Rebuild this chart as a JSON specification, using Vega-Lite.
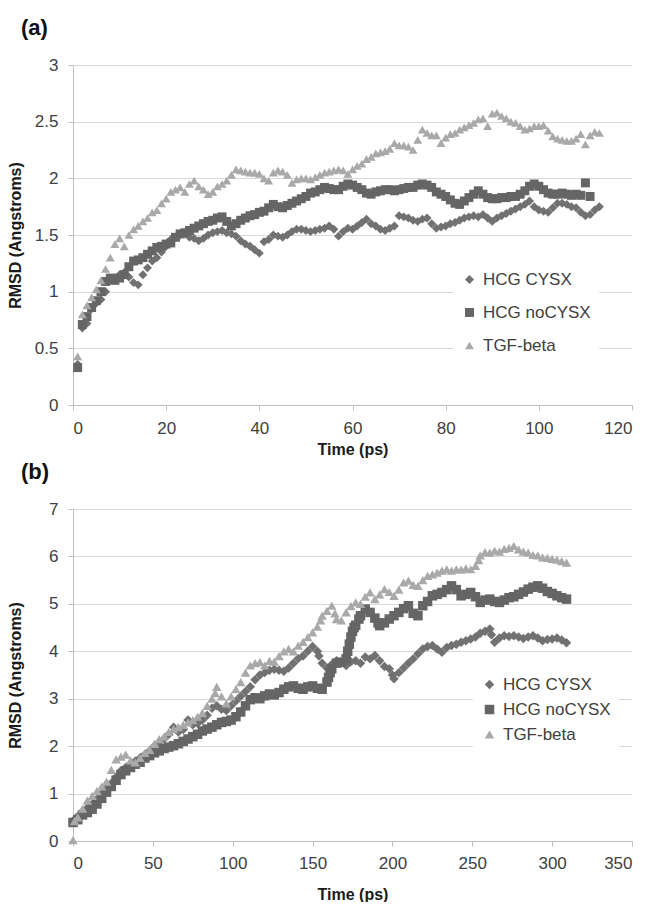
{
"$schema":"https://vega.github.io/schema/vega-lite/v6.json",
"background":"white",
"padding":{"left":7,"top":17,"right":0,"bottom":0},
"spacing":4,
"config":{
"font":"Liberation Sans",
"view":{"stroke":null},
"title":{"font":"Liberation Sans","fontSize":22,"fontWeight":"bold","color":"#111111","anchor":"start","frame":"group"},
"axis":{"labelFont":"Liberation Sans","labelFontSize":17,"labelColor":"#404040","titleFont":"Liberation Sans","titleFontSize":16,"titleFontWeight":"bold","titleColor":"#1a1a1a","domainColor":"#bfbfbf","tickColor":"#bfbfbf","gridColor":"#d9d9d9","tickSize":5,"domainWidth":1,"gridWidth":1.2},
"legend":{"labelFont":"Liberation Sans","labelFontSize":17,"labelColor":"#404040","symbolStrokeWidth":0,"fillColor":"white","symbolSize":50,"labelOffset":5}
},
"datasets":{
"a":[
{"series":"HCG CYSX","time":1,"rmsd":0.36},{"series":"HCG CYSX","time":2,"rmsd":0.68},{"series":"HCG CYSX","time":3,"rmsd":0.72},{"series":"HCG CYSX","time":4,"rmsd":0.85},{"series":"HCG CYSX","time":5,"rmsd":0.90},{"series":"HCG CYSX","time":6,"rmsd":0.93},{"series":"HCG CYSX","time":7,"rmsd":1.00},{"series":"HCG CYSX","time":8,"rmsd":1.10},{"series":"HCG CYSX","time":9,"rmsd":1.12},{"series":"HCG CYSX","time":10,"rmsd":1.15},
{"series":"HCG CYSX","time":11,"rmsd":1.17},{"series":"HCG CYSX","time":12,"rmsd":1.13},{"series":"HCG CYSX","time":13,"rmsd":1.08},{"series":"HCG CYSX","time":14,"rmsd":1.06},{"series":"HCG CYSX","time":15,"rmsd":1.15},{"series":"HCG CYSX","time":16,"rmsd":1.21},{"series":"HCG CYSX","time":17,"rmsd":1.27},{"series":"HCG CYSX","time":18,"rmsd":1.30},{"series":"HCG CYSX","time":19,"rmsd":1.35},{"series":"HCG CYSX","time":20,"rmsd":1.40},
{"series":"HCG CYSX","time":21,"rmsd":1.46},{"series":"HCG CYSX","time":22,"rmsd":1.48},{"series":"HCG CYSX","time":23,"rmsd":1.50},{"series":"HCG CYSX","time":24,"rmsd":1.51},{"series":"HCG CYSX","time":25,"rmsd":1.48},{"series":"HCG CYSX","time":26,"rmsd":1.47},{"series":"HCG CYSX","time":27,"rmsd":1.45},{"series":"HCG CYSX","time":28,"rmsd":1.47},{"series":"HCG CYSX","time":29,"rmsd":1.50},{"series":"HCG CYSX","time":30,"rmsd":1.52},
{"series":"HCG CYSX","time":31,"rmsd":1.53},{"series":"HCG CYSX","time":32,"rmsd":1.54},{"series":"HCG CYSX","time":33,"rmsd":1.52},{"series":"HCG CYSX","time":34,"rmsd":1.51},{"series":"HCG CYSX","time":35,"rmsd":1.49},{"series":"HCG CYSX","time":36,"rmsd":1.45},{"series":"HCG CYSX","time":37,"rmsd":1.42},{"series":"HCG CYSX","time":38,"rmsd":1.40},{"series":"HCG CYSX","time":39,"rmsd":1.37},{"series":"HCG CYSX","time":40,"rmsd":1.34},
{"series":"HCG CYSX","time":41,"rmsd":1.44},{"series":"HCG CYSX","time":42,"rmsd":1.46},{"series":"HCG CYSX","time":43,"rmsd":1.50},{"series":"HCG CYSX","time":44,"rmsd":1.49},{"series":"HCG CYSX","time":45,"rmsd":1.48},{"series":"HCG CYSX","time":46,"rmsd":1.50},{"series":"HCG CYSX","time":47,"rmsd":1.53},{"series":"HCG CYSX","time":48,"rmsd":1.55},{"series":"HCG CYSX","time":49,"rmsd":1.55},{"series":"HCG CYSX","time":50,"rmsd":1.54},
{"series":"HCG CYSX","time":51,"rmsd":1.53},{"series":"HCG CYSX","time":52,"rmsd":1.54},{"series":"HCG CYSX","time":53,"rmsd":1.55},{"series":"HCG CYSX","time":54,"rmsd":1.56},{"series":"HCG CYSX","time":55,"rmsd":1.58},{"series":"HCG CYSX","time":56,"rmsd":1.55},{"series":"HCG CYSX","time":57,"rmsd":1.49},{"series":"HCG CYSX","time":58,"rmsd":1.53},{"series":"HCG CYSX","time":59,"rmsd":1.56},{"series":"HCG CYSX","time":60,"rmsd":1.55},
{"series":"HCG CYSX","time":61,"rmsd":1.58},{"series":"HCG CYSX","time":62,"rmsd":1.61},{"series":"HCG CYSX","time":63,"rmsd":1.64},{"series":"HCG CYSX","time":64,"rmsd":1.60},{"series":"HCG CYSX","time":65,"rmsd":1.58},{"series":"HCG CYSX","time":66,"rmsd":1.55},{"series":"HCG CYSX","time":67,"rmsd":1.54},{"series":"HCG CYSX","time":68,"rmsd":1.56},{"series":"HCG CYSX","time":69,"rmsd":1.58},{"series":"HCG CYSX","time":70,"rmsd":1.67},
{"series":"HCG CYSX","time":71,"rmsd":1.66},{"series":"HCG CYSX","time":72,"rmsd":1.65},{"series":"HCG CYSX","time":73,"rmsd":1.63},{"series":"HCG CYSX","time":74,"rmsd":1.62},{"series":"HCG CYSX","time":75,"rmsd":1.64},{"series":"HCG CYSX","time":76,"rmsd":1.65},{"series":"HCG CYSX","time":77,"rmsd":1.60},{"series":"HCG CYSX","time":78,"rmsd":1.56},{"series":"HCG CYSX","time":79,"rmsd":1.57},{"series":"HCG CYSX","time":80,"rmsd":1.58},
{"series":"HCG CYSX","time":81,"rmsd":1.60},{"series":"HCG CYSX","time":82,"rmsd":1.61},{"series":"HCG CYSX","time":83,"rmsd":1.63},{"series":"HCG CYSX","time":84,"rmsd":1.65},{"series":"HCG CYSX","time":85,"rmsd":1.66},{"series":"HCG CYSX","time":86,"rmsd":1.67},{"series":"HCG CYSX","time":87,"rmsd":1.66},{"series":"HCG CYSX","time":88,"rmsd":1.68},{"series":"HCG CYSX","time":89,"rmsd":1.65},{"series":"HCG CYSX","time":90,"rmsd":1.62},
{"series":"HCG CYSX","time":91,"rmsd":1.65},{"series":"HCG CYSX","time":92,"rmsd":1.67},{"series":"HCG CYSX","time":93,"rmsd":1.69},{"series":"HCG CYSX","time":94,"rmsd":1.71},{"series":"HCG CYSX","time":95,"rmsd":1.73},{"series":"HCG CYSX","time":96,"rmsd":1.75},{"series":"HCG CYSX","time":97,"rmsd":1.77},{"series":"HCG CYSX","time":98,"rmsd":1.80},{"series":"HCG CYSX","time":99,"rmsd":1.75},{"series":"HCG CYSX","time":100,"rmsd":1.72},
{"series":"HCG CYSX","time":101,"rmsd":1.71},{"series":"HCG CYSX","time":102,"rmsd":1.70},{"series":"HCG CYSX","time":103,"rmsd":1.74},{"series":"HCG CYSX","time":104,"rmsd":1.78},{"series":"HCG CYSX","time":105,"rmsd":1.78},{"series":"HCG CYSX","time":106,"rmsd":1.77},{"series":"HCG CYSX","time":107,"rmsd":1.75},{"series":"HCG CYSX","time":108,"rmsd":1.74},{"series":"HCG CYSX","time":109,"rmsd":1.70},{"series":"HCG CYSX","time":110,"rmsd":1.67},
{"series":"HCG CYSX","time":111,"rmsd":1.68},{"series":"HCG CYSX","time":112,"rmsd":1.72},{"series":"HCG CYSX","time":113,"rmsd":1.75},
{"series":"HCG noCYSX","time":1,"rmsd":0.33},{"series":"HCG noCYSX","time":2,"rmsd":0.71},{"series":"HCG noCYSX","time":3,"rmsd":0.78},{"series":"HCG noCYSX","time":4,"rmsd":0.86},{"series":"HCG noCYSX","time":5,"rmsd":0.92},{"series":"HCG noCYSX","time":6,"rmsd":1.00},{"series":"HCG noCYSX","time":7,"rmsd":1.09},{"series":"HCG noCYSX","time":8,"rmsd":1.12},{"series":"HCG noCYSX","time":9,"rmsd":1.10},{"series":"HCG noCYSX","time":10,"rmsd":1.12},
{"series":"HCG noCYSX","time":11,"rmsd":1.15},{"series":"HCG noCYSX","time":12,"rmsd":1.22},{"series":"HCG noCYSX","time":13,"rmsd":1.27},{"series":"HCG noCYSX","time":14,"rmsd":1.28},{"series":"HCG noCYSX","time":15,"rmsd":1.30},{"series":"HCG noCYSX","time":16,"rmsd":1.33},{"series":"HCG noCYSX","time":17,"rmsd":1.36},{"series":"HCG noCYSX","time":18,"rmsd":1.39},{"series":"HCG noCYSX","time":19,"rmsd":1.40},{"series":"HCG noCYSX","time":20,"rmsd":1.42},
{"series":"HCG noCYSX","time":21,"rmsd":1.43},{"series":"HCG noCYSX","time":22,"rmsd":1.48},{"series":"HCG noCYSX","time":23,"rmsd":1.51},{"series":"HCG noCYSX","time":24,"rmsd":1.52},{"series":"HCG noCYSX","time":25,"rmsd":1.54},{"series":"HCG noCYSX","time":26,"rmsd":1.56},{"series":"HCG noCYSX","time":27,"rmsd":1.58},{"series":"HCG noCYSX","time":28,"rmsd":1.60},{"series":"HCG noCYSX","time":29,"rmsd":1.62},{"series":"HCG noCYSX","time":30,"rmsd":1.63},
{"series":"HCG noCYSX","time":31,"rmsd":1.65},{"series":"HCG noCYSX","time":32,"rmsd":1.66},{"series":"HCG noCYSX","time":33,"rmsd":1.62},{"series":"HCG noCYSX","time":34,"rmsd":1.58},{"series":"HCG noCYSX","time":35,"rmsd":1.60},{"series":"HCG noCYSX","time":36,"rmsd":1.63},{"series":"HCG noCYSX","time":37,"rmsd":1.65},{"series":"HCG noCYSX","time":38,"rmsd":1.67},{"series":"HCG noCYSX","time":39,"rmsd":1.68},{"series":"HCG noCYSX","time":40,"rmsd":1.70},
{"series":"HCG noCYSX","time":41,"rmsd":1.71},{"series":"HCG noCYSX","time":42,"rmsd":1.74},{"series":"HCG noCYSX","time":43,"rmsd":1.77},{"series":"HCG noCYSX","time":44,"rmsd":1.75},{"series":"HCG noCYSX","time":45,"rmsd":1.74},{"series":"HCG noCYSX","time":46,"rmsd":1.76},{"series":"HCG noCYSX","time":47,"rmsd":1.78},{"series":"HCG noCYSX","time":48,"rmsd":1.80},{"series":"HCG noCYSX","time":49,"rmsd":1.82},{"series":"HCG noCYSX","time":50,"rmsd":1.84},
{"series":"HCG noCYSX","time":51,"rmsd":1.87},{"series":"HCG noCYSX","time":52,"rmsd":1.88},{"series":"HCG noCYSX","time":53,"rmsd":1.90},{"series":"HCG noCYSX","time":54,"rmsd":1.92},{"series":"HCG noCYSX","time":55,"rmsd":1.91},{"series":"HCG noCYSX","time":56,"rmsd":1.90},{"series":"HCG noCYSX","time":57,"rmsd":1.90},{"series":"HCG noCYSX","time":58,"rmsd":1.93},{"series":"HCG noCYSX","time":59,"rmsd":1.95},{"series":"HCG noCYSX","time":60,"rmsd":1.94},
{"series":"HCG noCYSX","time":61,"rmsd":1.92},{"series":"HCG noCYSX","time":62,"rmsd":1.90},{"series":"HCG noCYSX","time":63,"rmsd":1.87},{"series":"HCG noCYSX","time":64,"rmsd":1.86},{"series":"HCG noCYSX","time":65,"rmsd":1.88},{"series":"HCG noCYSX","time":66,"rmsd":1.89},{"series":"HCG noCYSX","time":67,"rmsd":1.90},{"series":"HCG noCYSX","time":68,"rmsd":1.90},{"series":"HCG noCYSX","time":69,"rmsd":1.89},{"series":"HCG noCYSX","time":70,"rmsd":1.90},
{"series":"HCG noCYSX","time":71,"rmsd":1.91},{"series":"HCG noCYSX","time":72,"rmsd":1.92},{"series":"HCG noCYSX","time":73,"rmsd":1.92},{"series":"HCG noCYSX","time":74,"rmsd":1.94},{"series":"HCG noCYSX","time":75,"rmsd":1.95},{"series":"HCG noCYSX","time":76,"rmsd":1.94},{"series":"HCG noCYSX","time":77,"rmsd":1.92},{"series":"HCG noCYSX","time":78,"rmsd":1.88},{"series":"HCG noCYSX","time":79,"rmsd":1.86},{"series":"HCG noCYSX","time":80,"rmsd":1.84},
{"series":"HCG noCYSX","time":81,"rmsd":1.81},{"series":"HCG noCYSX","time":82,"rmsd":1.78},{"series":"HCG noCYSX","time":83,"rmsd":1.77},{"series":"HCG noCYSX","time":84,"rmsd":1.80},{"series":"HCG noCYSX","time":85,"rmsd":1.83},{"series":"HCG noCYSX","time":86,"rmsd":1.86},{"series":"HCG noCYSX","time":87,"rmsd":1.89},{"series":"HCG noCYSX","time":88,"rmsd":1.86},{"series":"HCG noCYSX","time":89,"rmsd":1.83},{"series":"HCG noCYSX","time":90,"rmsd":1.82},
{"series":"HCG noCYSX","time":91,"rmsd":1.82},{"series":"HCG noCYSX","time":92,"rmsd":1.83},{"series":"HCG noCYSX","time":93,"rmsd":1.83},{"series":"HCG noCYSX","time":94,"rmsd":1.84},{"series":"HCG noCYSX","time":95,"rmsd":1.84},{"series":"HCG noCYSX","time":96,"rmsd":1.86},{"series":"HCG noCYSX","time":97,"rmsd":1.89},{"series":"HCG noCYSX","time":98,"rmsd":1.93},{"series":"HCG noCYSX","time":99,"rmsd":1.95},{"series":"HCG noCYSX","time":100,"rmsd":1.93},
{"series":"HCG noCYSX","time":101,"rmsd":1.90},{"series":"HCG noCYSX","time":102,"rmsd":1.87},{"series":"HCG noCYSX","time":103,"rmsd":1.86},{"series":"HCG noCYSX","time":104,"rmsd":1.86},{"series":"HCG noCYSX","time":105,"rmsd":1.87},{"series":"HCG noCYSX","time":106,"rmsd":1.86},{"series":"HCG noCYSX","time":107,"rmsd":1.85},{"series":"HCG noCYSX","time":108,"rmsd":1.86},{"series":"HCG noCYSX","time":109,"rmsd":1.85},{"series":"HCG noCYSX","time":110,"rmsd":1.96},
{"series":"HCG noCYSX","time":111,"rmsd":1.84},
{"series":"TGF-beta","time":1,"rmsd":0.43},{"series":"TGF-beta","time":2,"rmsd":0.80},{"series":"TGF-beta","time":3,"rmsd":0.88},{"series":"TGF-beta","time":4,"rmsd":0.95},{"series":"TGF-beta","time":5,"rmsd":1.02},{"series":"TGF-beta","time":6,"rmsd":1.10},{"series":"TGF-beta","time":7,"rmsd":1.20},{"series":"TGF-beta","time":8,"rmsd":1.30},{"series":"TGF-beta","time":9,"rmsd":1.42},{"series":"TGF-beta","time":10,"rmsd":1.47},
{"series":"TGF-beta","time":11,"rmsd":1.40},{"series":"TGF-beta","time":12,"rmsd":1.50},{"series":"TGF-beta","time":13,"rmsd":1.55},{"series":"TGF-beta","time":14,"rmsd":1.58},{"series":"TGF-beta","time":15,"rmsd":1.62},{"series":"TGF-beta","time":16,"rmsd":1.65},{"series":"TGF-beta","time":17,"rmsd":1.70},{"series":"TGF-beta","time":18,"rmsd":1.72},{"series":"TGF-beta","time":19,"rmsd":1.78},{"series":"TGF-beta","time":20,"rmsd":1.82},
{"series":"TGF-beta","time":21,"rmsd":1.88},{"series":"TGF-beta","time":22,"rmsd":1.90},{"series":"TGF-beta","time":23,"rmsd":1.92},{"series":"TGF-beta","time":24,"rmsd":1.88},{"series":"TGF-beta","time":25,"rmsd":1.95},{"series":"TGF-beta","time":26,"rmsd":1.98},{"series":"TGF-beta","time":27,"rmsd":1.93},{"series":"TGF-beta","time":28,"rmsd":1.90},{"series":"TGF-beta","time":29,"rmsd":1.86},{"series":"TGF-beta","time":30,"rmsd":1.88},
{"series":"TGF-beta","time":31,"rmsd":1.93},{"series":"TGF-beta","time":32,"rmsd":1.95},{"series":"TGF-beta","time":33,"rmsd":1.98},{"series":"TGF-beta","time":34,"rmsd":2.03},{"series":"TGF-beta","time":35,"rmsd":2.08},{"series":"TGF-beta","time":36,"rmsd":2.07},{"series":"TGF-beta","time":37,"rmsd":2.06},{"series":"TGF-beta","time":38,"rmsd":2.05},{"series":"TGF-beta","time":39,"rmsd":2.05},{"series":"TGF-beta","time":40,"rmsd":2.04},
{"series":"TGF-beta","time":41,"rmsd":2.00},{"series":"TGF-beta","time":42,"rmsd":1.98},{"series":"TGF-beta","time":43,"rmsd":2.05},{"series":"TGF-beta","time":44,"rmsd":2.07},{"series":"TGF-beta","time":45,"rmsd":2.06},{"series":"TGF-beta","time":46,"rmsd":2.03},{"series":"TGF-beta","time":47,"rmsd":1.96},{"series":"TGF-beta","time":48,"rmsd":1.99},{"series":"TGF-beta","time":49,"rmsd":2.00},{"series":"TGF-beta","time":50,"rmsd":2.00},
{"series":"TGF-beta","time":51,"rmsd":1.99},{"series":"TGF-beta","time":52,"rmsd":2.01},{"series":"TGF-beta","time":53,"rmsd":2.03},{"series":"TGF-beta","time":54,"rmsd":2.05},{"series":"TGF-beta","time":55,"rmsd":2.06},{"series":"TGF-beta","time":56,"rmsd":2.07},{"series":"TGF-beta","time":57,"rmsd":2.08},{"series":"TGF-beta","time":58,"rmsd":2.07},{"series":"TGF-beta","time":59,"rmsd":2.04},{"series":"TGF-beta","time":60,"rmsd":2.08},
{"series":"TGF-beta","time":61,"rmsd":2.11},{"series":"TGF-beta","time":62,"rmsd":2.13},{"series":"TGF-beta","time":63,"rmsd":2.17},{"series":"TGF-beta","time":64,"rmsd":2.19},{"series":"TGF-beta","time":65,"rmsd":2.22},{"series":"TGF-beta","time":66,"rmsd":2.23},{"series":"TGF-beta","time":67,"rmsd":2.24},{"series":"TGF-beta","time":68,"rmsd":2.26},{"series":"TGF-beta","time":69,"rmsd":2.31},{"series":"TGF-beta","time":70,"rmsd":2.29},
{"series":"TGF-beta","time":71,"rmsd":2.29},{"series":"TGF-beta","time":72,"rmsd":2.28},{"series":"TGF-beta","time":73,"rmsd":2.25},{"series":"TGF-beta","time":74,"rmsd":2.34},{"series":"TGF-beta","time":75,"rmsd":2.43},{"series":"TGF-beta","time":76,"rmsd":2.40},{"series":"TGF-beta","time":77,"rmsd":2.38},{"series":"TGF-beta","time":78,"rmsd":2.38},{"series":"TGF-beta","time":79,"rmsd":2.31},{"series":"TGF-beta","time":80,"rmsd":2.36},
{"series":"TGF-beta","time":81,"rmsd":2.39},{"series":"TGF-beta","time":82,"rmsd":2.40},{"series":"TGF-beta","time":83,"rmsd":2.43},{"series":"TGF-beta","time":84,"rmsd":2.45},{"series":"TGF-beta","time":85,"rmsd":2.47},{"series":"TGF-beta","time":86,"rmsd":2.49},{"series":"TGF-beta","time":87,"rmsd":2.52},{"series":"TGF-beta","time":88,"rmsd":2.53},{"series":"TGF-beta","time":89,"rmsd":2.46},{"series":"TGF-beta","time":90,"rmsd":2.57},
{"series":"TGF-beta","time":91,"rmsd":2.58},{"series":"TGF-beta","time":92,"rmsd":2.55},{"series":"TGF-beta","time":93,"rmsd":2.53},{"series":"TGF-beta","time":94,"rmsd":2.50},{"series":"TGF-beta","time":95,"rmsd":2.49},{"series":"TGF-beta","time":96,"rmsd":2.46},{"series":"TGF-beta","time":97,"rmsd":2.43},{"series":"TGF-beta","time":98,"rmsd":2.44},{"series":"TGF-beta","time":99,"rmsd":2.46},{"series":"TGF-beta","time":100,"rmsd":2.46},
{"series":"TGF-beta","time":101,"rmsd":2.47},{"series":"TGF-beta","time":102,"rmsd":2.42},{"series":"TGF-beta","time":103,"rmsd":2.37},{"series":"TGF-beta","time":104,"rmsd":2.35},{"series":"TGF-beta","time":105,"rmsd":2.34},{"series":"TGF-beta","time":106,"rmsd":2.33},{"series":"TGF-beta","time":107,"rmsd":2.33},{"series":"TGF-beta","time":108,"rmsd":2.35},{"series":"TGF-beta","time":109,"rmsd":2.39},{"series":"TGF-beta","time":110,"rmsd":2.30},
{"series":"TGF-beta","time":111,"rmsd":2.38},{"series":"TGF-beta","time":112,"rmsd":2.41},{"series":"TGF-beta","time":113,"rmsd":2.40}
],
"b":[
{"series":"HCG CYSX","time":0,"rmsd":0.42},{"series":"HCG CYSX","time":3,"rmsd":0.52},{"series":"HCG CYSX","time":6,"rmsd":0.62},{"series":"HCG CYSX","time":9,"rmsd":0.70},{"series":"HCG CYSX","time":12,"rmsd":0.78},{"series":"HCG CYSX","time":15,"rmsd":0.88},{"series":"HCG CYSX","time":18,"rmsd":1.00},{"series":"HCG CYSX","time":21,"rmsd":1.12},{"series":"HCG CYSX","time":24,"rmsd":1.22},{"series":"HCG CYSX","time":27,"rmsd":1.35},
{"series":"HCG CYSX","time":30,"rmsd":1.48},{"series":"HCG CYSX","time":33,"rmsd":1.55},{"series":"HCG CYSX","time":36,"rmsd":1.60},{"series":"HCG CYSX","time":39,"rmsd":1.68},{"series":"HCG CYSX","time":42,"rmsd":1.75},{"series":"HCG CYSX","time":45,"rmsd":1.82},{"series":"HCG CYSX","time":48,"rmsd":1.90},{"series":"HCG CYSX","time":51,"rmsd":2.00},{"series":"HCG CYSX","time":54,"rmsd":2.08},{"series":"HCG CYSX","time":57,"rmsd":2.15},
{"series":"HCG CYSX","time":60,"rmsd":2.25},{"series":"HCG CYSX","time":63,"rmsd":2.40},{"series":"HCG CYSX","time":66,"rmsd":2.30},{"series":"HCG CYSX","time":69,"rmsd":2.35},{"series":"HCG CYSX","time":72,"rmsd":2.55},{"series":"HCG CYSX","time":75,"rmsd":2.45},{"series":"HCG CYSX","time":78,"rmsd":2.48},{"series":"HCG CYSX","time":81,"rmsd":2.55},{"series":"HCG CYSX","time":84,"rmsd":2.65},{"series":"HCG CYSX","time":87,"rmsd":2.80},
{"series":"HCG CYSX","time":90,"rmsd":2.85},{"series":"HCG CYSX","time":93,"rmsd":2.78},{"series":"HCG CYSX","time":96,"rmsd":2.75},{"series":"HCG CYSX","time":99,"rmsd":2.85},{"series":"HCG CYSX","time":102,"rmsd":2.95},{"series":"HCG CYSX","time":105,"rmsd":3.05},{"series":"HCG CYSX","time":108,"rmsd":3.15},{"series":"HCG CYSX","time":111,"rmsd":3.25},{"series":"HCG CYSX","time":114,"rmsd":3.40},{"series":"HCG CYSX","time":117,"rmsd":3.50},
{"series":"HCG CYSX","time":120,"rmsd":3.55},{"series":"HCG CYSX","time":123,"rmsd":3.60},{"series":"HCG CYSX","time":126,"rmsd":3.62},{"series":"HCG CYSX","time":129,"rmsd":3.60},{"series":"HCG CYSX","time":132,"rmsd":3.58},{"series":"HCG CYSX","time":135,"rmsd":3.65},{"series":"HCG CYSX","time":138,"rmsd":3.75},{"series":"HCG CYSX","time":141,"rmsd":3.85},{"series":"HCG CYSX","time":144,"rmsd":3.90},{"series":"HCG CYSX","time":147,"rmsd":4.00},
{"series":"HCG CYSX","time":150,"rmsd":4.10},{"series":"HCG CYSX","time":153,"rmsd":4.00},{"series":"HCG CYSX","time":154,"rmsd":3.90},{"series":"HCG CYSX","time":156,"rmsd":3.75},{"series":"HCG CYSX","time":159,"rmsd":3.65},{"series":"HCG CYSX","time":162,"rmsd":3.72},{"series":"HCG CYSX","time":165,"rmsd":3.80},{"series":"HCG CYSX","time":168,"rmsd":3.76},{"series":"HCG CYSX","time":171,"rmsd":3.70},{"series":"HCG CYSX","time":174,"rmsd":3.78},{"series":"HCG CYSX","time":177,"rmsd":3.80},
{"series":"HCG CYSX","time":180,"rmsd":3.75},{"series":"HCG CYSX","time":183,"rmsd":3.88},{"series":"HCG CYSX","time":186,"rmsd":3.84},{"series":"HCG CYSX","time":189,"rmsd":3.91},{"series":"HCG CYSX","time":192,"rmsd":3.80},{"series":"HCG CYSX","time":195,"rmsd":3.68},{"series":"HCG CYSX","time":198,"rmsd":3.63},{"series":"HCG CYSX","time":200,"rmsd":3.50},{"series":"HCG CYSX","time":201,"rmsd":3.42},{"series":"HCG CYSX","time":204,"rmsd":3.55},{"series":"HCG CYSX","time":207,"rmsd":3.65},
{"series":"HCG CYSX","time":210,"rmsd":3.75},{"series":"HCG CYSX","time":213,"rmsd":3.84},{"series":"HCG CYSX","time":216,"rmsd":3.95},{"series":"HCG CYSX","time":219,"rmsd":4.05},{"series":"HCG CYSX","time":222,"rmsd":4.10},{"series":"HCG CYSX","time":225,"rmsd":4.12},{"series":"HCG CYSX","time":228,"rmsd":4.05},{"series":"HCG CYSX","time":231,"rmsd":3.98},{"series":"HCG CYSX","time":234,"rmsd":4.08},{"series":"HCG CYSX","time":237,"rmsd":4.12},
{"series":"HCG CYSX","time":240,"rmsd":4.15},{"series":"HCG CYSX","time":243,"rmsd":4.19},{"series":"HCG CYSX","time":246,"rmsd":4.22},{"series":"HCG CYSX","time":249,"rmsd":4.26},{"series":"HCG CYSX","time":252,"rmsd":4.30},{"series":"HCG CYSX","time":255,"rmsd":4.38},{"series":"HCG CYSX","time":258,"rmsd":4.42},{"series":"HCG CYSX","time":261,"rmsd":4.47},{"series":"HCG CYSX","time":262,"rmsd":4.35},{"series":"HCG CYSX","time":264,"rmsd":4.19},{"series":"HCG CYSX","time":267,"rmsd":4.28},
{"series":"HCG CYSX","time":270,"rmsd":4.33},{"series":"HCG CYSX","time":273,"rmsd":4.31},{"series":"HCG CYSX","time":276,"rmsd":4.33},{"series":"HCG CYSX","time":279,"rmsd":4.30},{"series":"HCG CYSX","time":282,"rmsd":4.27},{"series":"HCG CYSX","time":285,"rmsd":4.30},{"series":"HCG CYSX","time":288,"rmsd":4.33},{"series":"HCG CYSX","time":291,"rmsd":4.28},{"series":"HCG CYSX","time":294,"rmsd":4.22},{"series":"HCG CYSX","time":297,"rmsd":4.25},
{"series":"HCG CYSX","time":300,"rmsd":4.26},{"series":"HCG CYSX","time":303,"rmsd":4.28},{"series":"HCG CYSX","time":306,"rmsd":4.24},{"series":"HCG CYSX","time":309,"rmsd":4.18},
{"series":"HCG noCYSX","time":0,"rmsd":0.39},{"series":"HCG noCYSX","time":3,"rmsd":0.45},{"series":"HCG noCYSX","time":6,"rmsd":0.55},{"series":"HCG noCYSX","time":9,"rmsd":0.60},{"series":"HCG noCYSX","time":12,"rmsd":0.67},{"series":"HCG noCYSX","time":15,"rmsd":0.78},{"series":"HCG noCYSX","time":18,"rmsd":0.90},{"series":"HCG noCYSX","time":21,"rmsd":1.03},{"series":"HCG noCYSX","time":24,"rmsd":1.15},{"series":"HCG noCYSX","time":27,"rmsd":1.28},
{"series":"HCG noCYSX","time":30,"rmsd":1.40},{"series":"HCG noCYSX","time":33,"rmsd":1.48},{"series":"HCG noCYSX","time":36,"rmsd":1.55},{"series":"HCG noCYSX","time":39,"rmsd":1.62},{"series":"HCG noCYSX","time":42,"rmsd":1.66},{"series":"HCG noCYSX","time":45,"rmsd":1.75},{"series":"HCG noCYSX","time":48,"rmsd":1.80},{"series":"HCG noCYSX","time":51,"rmsd":1.86},{"series":"HCG noCYSX","time":54,"rmsd":1.90},{"series":"HCG noCYSX","time":57,"rmsd":1.95},
{"series":"HCG noCYSX","time":60,"rmsd":1.98},{"series":"HCG noCYSX","time":63,"rmsd":2.01},{"series":"HCG noCYSX","time":66,"rmsd":2.05},{"series":"HCG noCYSX","time":69,"rmsd":2.10},{"series":"HCG noCYSX","time":72,"rmsd":2.15},{"series":"HCG noCYSX","time":75,"rmsd":2.20},{"series":"HCG noCYSX","time":78,"rmsd":2.25},{"series":"HCG noCYSX","time":81,"rmsd":2.32},{"series":"HCG noCYSX","time":84,"rmsd":2.36},{"series":"HCG noCYSX","time":87,"rmsd":2.40},
{"series":"HCG noCYSX","time":90,"rmsd":2.45},{"series":"HCG noCYSX","time":93,"rmsd":2.50},{"series":"HCG noCYSX","time":96,"rmsd":2.52},{"series":"HCG noCYSX","time":99,"rmsd":2.55},{"series":"HCG noCYSX","time":102,"rmsd":2.62},{"series":"HCG noCYSX","time":105,"rmsd":2.72},{"series":"HCG noCYSX","time":108,"rmsd":2.85},{"series":"HCG noCYSX","time":111,"rmsd":2.98},{"series":"HCG noCYSX","time":114,"rmsd":3.02},{"series":"HCG noCYSX","time":117,"rmsd":3.00},
{"series":"HCG noCYSX","time":120,"rmsd":3.06},{"series":"HCG noCYSX","time":123,"rmsd":3.10},{"series":"HCG noCYSX","time":126,"rmsd":3.08},{"series":"HCG noCYSX","time":129,"rmsd":3.13},{"series":"HCG noCYSX","time":132,"rmsd":3.20},{"series":"HCG noCYSX","time":135,"rmsd":3.25},{"series":"HCG noCYSX","time":138,"rmsd":3.27},{"series":"HCG noCYSX","time":141,"rmsd":3.22},{"series":"HCG noCYSX","time":144,"rmsd":3.20},{"series":"HCG noCYSX","time":147,"rmsd":3.25},
{"series":"HCG noCYSX","time":150,"rmsd":3.27},{"series":"HCG noCYSX","time":153,"rmsd":3.22},{"series":"HCG noCYSX","time":156,"rmsd":3.20},{"series":"HCG noCYSX","time":159,"rmsd":3.35},{"series":"HCG noCYSX","time":160,"rmsd":3.45},{"series":"HCG noCYSX","time":161,"rmsd":3.55},{"series":"HCG noCYSX","time":162,"rmsd":3.63},{"series":"HCG noCYSX","time":165,"rmsd":3.75},{"series":"HCG noCYSX","time":168,"rmsd":3.77},{"series":"HCG noCYSX","time":171,"rmsd":3.84},{"series":"HCG noCYSX","time":172,"rmsd":4.00},{"series":"HCG noCYSX","time":173,"rmsd":4.15},{"series":"HCG noCYSX","time":174,"rmsd":4.30},{"series":"HCG noCYSX","time":175,"rmsd":4.42},{"series":"HCG noCYSX","time":176,"rmsd":4.50},{"series":"HCG noCYSX","time":177,"rmsd":4.55},
{"series":"HCG noCYSX","time":179,"rmsd":4.68},{"series":"HCG noCYSX","time":180,"rmsd":4.75},{"series":"HCG noCYSX","time":183,"rmsd":4.89},{"series":"HCG noCYSX","time":186,"rmsd":4.82},{"series":"HCG noCYSX","time":189,"rmsd":4.70},{"series":"HCG noCYSX","time":191,"rmsd":4.60},{"series":"HCG noCYSX","time":192,"rmsd":4.54},{"series":"HCG noCYSX","time":195,"rmsd":4.60},{"series":"HCG noCYSX","time":198,"rmsd":4.68},{"series":"HCG noCYSX","time":201,"rmsd":4.75},{"series":"HCG noCYSX","time":204,"rmsd":4.82},{"series":"HCG noCYSX","time":207,"rmsd":4.90},
{"series":"HCG noCYSX","time":210,"rmsd":4.96},{"series":"HCG noCYSX","time":213,"rmsd":4.80},{"series":"HCG noCYSX","time":216,"rmsd":4.75},{"series":"HCG noCYSX","time":219,"rmsd":4.96},{"series":"HCG noCYSX","time":222,"rmsd":5.05},{"series":"HCG noCYSX","time":225,"rmsd":5.17},{"series":"HCG noCYSX","time":228,"rmsd":5.20},{"series":"HCG noCYSX","time":231,"rmsd":5.24},{"series":"HCG noCYSX","time":234,"rmsd":5.30},{"series":"HCG noCYSX","time":237,"rmsd":5.38},
{"series":"HCG noCYSX","time":240,"rmsd":5.30},{"series":"HCG noCYSX","time":243,"rmsd":5.17},{"series":"HCG noCYSX","time":246,"rmsd":5.20},{"series":"HCG noCYSX","time":249,"rmsd":5.24},{"series":"HCG noCYSX","time":252,"rmsd":5.15},{"series":"HCG noCYSX","time":255,"rmsd":5.03},{"series":"HCG noCYSX","time":258,"rmsd":5.08},{"series":"HCG noCYSX","time":261,"rmsd":5.10},{"series":"HCG noCYSX","time":264,"rmsd":5.05},{"series":"HCG noCYSX","time":267,"rmsd":5.03},
{"series":"HCG noCYSX","time":270,"rmsd":5.08},{"series":"HCG noCYSX","time":273,"rmsd":5.13},{"series":"HCG noCYSX","time":276,"rmsd":5.15},{"series":"HCG noCYSX","time":279,"rmsd":5.20},{"series":"HCG noCYSX","time":282,"rmsd":5.25},{"series":"HCG noCYSX","time":285,"rmsd":5.31},{"series":"HCG noCYSX","time":288,"rmsd":5.35},{"series":"HCG noCYSX","time":291,"rmsd":5.38},{"series":"HCG noCYSX","time":294,"rmsd":5.33},{"series":"HCG noCYSX","time":297,"rmsd":5.26},
{"series":"HCG noCYSX","time":300,"rmsd":5.22},{"series":"HCG noCYSX","time":303,"rmsd":5.17},{"series":"HCG noCYSX","time":306,"rmsd":5.13},{"series":"HCG noCYSX","time":309,"rmsd":5.10},
{"series":"TGF-beta","time":0,"rmsd":0.02},{"series":"TGF-beta","time":1,"rmsd":0.42},{"series":"TGF-beta","time":3,"rmsd":0.50},{"series":"TGF-beta","time":6,"rmsd":0.68},{"series":"TGF-beta","time":9,"rmsd":0.85},{"series":"TGF-beta","time":12,"rmsd":0.95},{"series":"TGF-beta","time":15,"rmsd":1.05},{"series":"TGF-beta","time":18,"rmsd":1.15},{"series":"TGF-beta","time":21,"rmsd":1.25},{"series":"TGF-beta","time":24,"rmsd":1.50},{"series":"TGF-beta","time":27,"rmsd":1.72},
{"series":"TGF-beta","time":30,"rmsd":1.78},{"series":"TGF-beta","time":33,"rmsd":1.82},{"series":"TGF-beta","time":36,"rmsd":1.70},{"series":"TGF-beta","time":39,"rmsd":1.66},{"series":"TGF-beta","time":42,"rmsd":1.75},{"series":"TGF-beta","time":45,"rmsd":1.86},{"series":"TGF-beta","time":48,"rmsd":1.92},{"series":"TGF-beta","time":51,"rmsd":2.05},{"series":"TGF-beta","time":54,"rmsd":2.15},{"series":"TGF-beta","time":57,"rmsd":2.20},
{"series":"TGF-beta","time":60,"rmsd":2.30},{"series":"TGF-beta","time":63,"rmsd":2.36},{"series":"TGF-beta","time":66,"rmsd":2.40},{"series":"TGF-beta","time":69,"rmsd":2.45},{"series":"TGF-beta","time":72,"rmsd":2.50},{"series":"TGF-beta","time":75,"rmsd":2.55},{"series":"TGF-beta","time":78,"rmsd":2.62},{"series":"TGF-beta","time":81,"rmsd":2.70},{"series":"TGF-beta","time":84,"rmsd":2.85},{"series":"TGF-beta","time":87,"rmsd":3.00},
{"series":"TGF-beta","time":89,"rmsd":3.12},{"series":"TGF-beta","time":90,"rmsd":3.25},{"series":"TGF-beta","time":93,"rmsd":3.05},{"series":"TGF-beta","time":96,"rmsd":2.90},{"series":"TGF-beta","time":99,"rmsd":3.05},{"series":"TGF-beta","time":102,"rmsd":3.20},{"series":"TGF-beta","time":105,"rmsd":3.35},{"series":"TGF-beta","time":108,"rmsd":3.55},{"series":"TGF-beta","time":111,"rmsd":3.70},{"series":"TGF-beta","time":114,"rmsd":3.75},{"series":"TGF-beta","time":117,"rmsd":3.77},
{"series":"TGF-beta","time":120,"rmsd":3.70},{"series":"TGF-beta","time":123,"rmsd":3.80},{"series":"TGF-beta","time":126,"rmsd":3.78},{"series":"TGF-beta","time":129,"rmsd":3.90},{"series":"TGF-beta","time":132,"rmsd":4.00},{"series":"TGF-beta","time":135,"rmsd":4.05},{"series":"TGF-beta","time":138,"rmsd":4.00},{"series":"TGF-beta","time":141,"rmsd":4.12},{"series":"TGF-beta","time":144,"rmsd":4.20},{"series":"TGF-beta","time":147,"rmsd":4.30},
{"series":"TGF-beta","time":150,"rmsd":4.40},{"series":"TGF-beta","time":153,"rmsd":4.52},{"series":"TGF-beta","time":155,"rmsd":4.65},{"series":"TGF-beta","time":156,"rmsd":4.75},{"series":"TGF-beta","time":159,"rmsd":4.85},{"series":"TGF-beta","time":162,"rmsd":4.96},{"series":"TGF-beta","time":164,"rmsd":4.80},{"series":"TGF-beta","time":165,"rmsd":4.68},{"series":"TGF-beta","time":168,"rmsd":4.65},{"series":"TGF-beta","time":171,"rmsd":4.82},{"series":"TGF-beta","time":174,"rmsd":4.95},{"series":"TGF-beta","time":177,"rmsd":5.03},
{"series":"TGF-beta","time":180,"rmsd":5.00},{"series":"TGF-beta","time":183,"rmsd":5.15},{"series":"TGF-beta","time":186,"rmsd":5.24},{"series":"TGF-beta","time":189,"rmsd":5.10},{"series":"TGF-beta","time":192,"rmsd":5.20},{"series":"TGF-beta","time":195,"rmsd":5.31},{"series":"TGF-beta","time":198,"rmsd":5.25},{"series":"TGF-beta","time":201,"rmsd":5.17},{"series":"TGF-beta","time":204,"rmsd":5.30},{"series":"TGF-beta","time":207,"rmsd":5.45},
{"series":"TGF-beta","time":210,"rmsd":5.49},{"series":"TGF-beta","time":213,"rmsd":5.40},{"series":"TGF-beta","time":216,"rmsd":5.38},{"series":"TGF-beta","time":219,"rmsd":5.50},{"series":"TGF-beta","time":222,"rmsd":5.59},{"series":"TGF-beta","time":225,"rmsd":5.62},{"series":"TGF-beta","time":228,"rmsd":5.66},{"series":"TGF-beta","time":231,"rmsd":5.70},{"series":"TGF-beta","time":234,"rmsd":5.73},{"series":"TGF-beta","time":237,"rmsd":5.70},
{"series":"TGF-beta","time":240,"rmsd":5.73},{"series":"TGF-beta","time":243,"rmsd":5.72},{"series":"TGF-beta","time":246,"rmsd":5.75},{"series":"TGF-beta","time":249,"rmsd":5.73},{"series":"TGF-beta","time":252,"rmsd":5.80},{"series":"TGF-beta","time":254,"rmsd":5.92},{"series":"TGF-beta","time":255,"rmsd":6.02},{"series":"TGF-beta","time":258,"rmsd":6.09},{"series":"TGF-beta","time":261,"rmsd":6.08},{"series":"TGF-beta","time":264,"rmsd":6.12},{"series":"TGF-beta","time":267,"rmsd":6.10},
{"series":"TGF-beta","time":270,"rmsd":6.16},{"series":"TGF-beta","time":273,"rmsd":6.18},{"series":"TGF-beta","time":276,"rmsd":6.22},{"series":"TGF-beta","time":279,"rmsd":6.15},{"series":"TGF-beta","time":282,"rmsd":6.10},{"series":"TGF-beta","time":285,"rmsd":6.08},{"series":"TGF-beta","time":288,"rmsd":6.03},{"series":"TGF-beta","time":291,"rmsd":6.02},{"series":"TGF-beta","time":294,"rmsd":5.98},{"series":"TGF-beta","time":297,"rmsd":5.97},
{"series":"TGF-beta","time":300,"rmsd":5.95},{"series":"TGF-beta","time":303,"rmsd":5.93},{"series":"TGF-beta","time":306,"rmsd":5.90},{"series":"TGF-beta","time":309,"rmsd":5.87}
]
},
"resolve":{"scale":{"x":"independent","y":"independent","color":"independent","shape":"independent","size":"independent"},"legend":{"color":"independent","shape":"independent"}},
"vconcat":[
{
"width":559,"height":340,
"title":{"text":"(a)","dx":-52,"offset":16},
"data":{"name":"a"},
"mark":{"type":"point","filled":true,"opacity":1,"strokeWidth":0},
"encoding":{
"x":{"field":"time","type":"quantitative","scale":{"domain":[0,120],"nice":false},"axis":{"title":"Time (ps)","values":[0,20,40,60,80,100,120],"grid":false,"labelPadding":10,"titlePadding":5}},
"y":{"field":"rmsd","type":"quantitative","scale":{"domain":[0,3],"nice":false},"axis":{"title":"RMSD (Angstroms)","values":[0,0.5,1,1.5,2,2.5,3],"format":"~g","grid":true,"labelPadding":10,"titlePadding":11}},
"color":{"field":"series","type":"nominal","scale":{"domain":["HCG CYSX","HCG noCYSX","TGF-beta"],"range":["#717171","#656565","#a9a9a9"]},"legend":{"title":null,"orient":"none","legendX":380,"legendY":198,"rowPadding":15,"padding":8}},
"shape":{"field":"series","type":"nominal","scale":{"domain":["HCG CYSX","HCG noCYSX","TGF-beta"],"range":["diamond","square","triangle-up"]},"legend":{"title":null,"orient":"none","legendX":380,"legendY":198,"rowPadding":15,"padding":8}},
"size":{"field":"series","type":"nominal","scale":{"domain":["HCG CYSX","HCG noCYSX","TGF-beta"],"range":[80,80,115]},"legend":null}
}
},
{
"width":559,"height":332,
"title":{"text":"(b)","dx":-52,"offset":16},
"data":{"name":"b"},
"mark":{"type":"point","filled":true,"opacity":1,"strokeWidth":0},
"encoding":{
"x":{"field":"time","type":"quantitative","scale":{"domain":[0,350],"nice":false},"axis":{"title":"Time (ps)","values":[0,50,100,150,200,250,300,350],"grid":false,"labelPadding":9,"titlePadding":15}},
"y":{"field":"rmsd","type":"quantitative","scale":{"domain":[0,7],"nice":false},"axis":{"title":"RMSD (Angstroms)","values":[0,1,2,3,4,5,6,7],"grid":true,"labelPadding":10,"titlePadding":25}},
"color":{"field":"series","type":"nominal","scale":{"domain":["HCG CYSX","HCG noCYSX","TGF-beta"],"range":["#717171","#656565","#a9a9a9"]},"legend":{"title":null,"orient":"none","legendX":400,"legendY":159,"rowPadding":7,"padding":8}},
"shape":{"field":"series","type":"nominal","scale":{"domain":["HCG CYSX","HCG noCYSX","TGF-beta"],"range":["diamond","square","triangle-up"]},"legend":{"title":null,"orient":"none","legendX":400,"legendY":159,"rowPadding":7,"padding":8}},
"size":{"field":"series","type":"nominal","scale":{"domain":["HCG CYSX","HCG noCYSX","TGF-beta"],"range":[90,90,125]},"legend":null}
}
}
]
}
